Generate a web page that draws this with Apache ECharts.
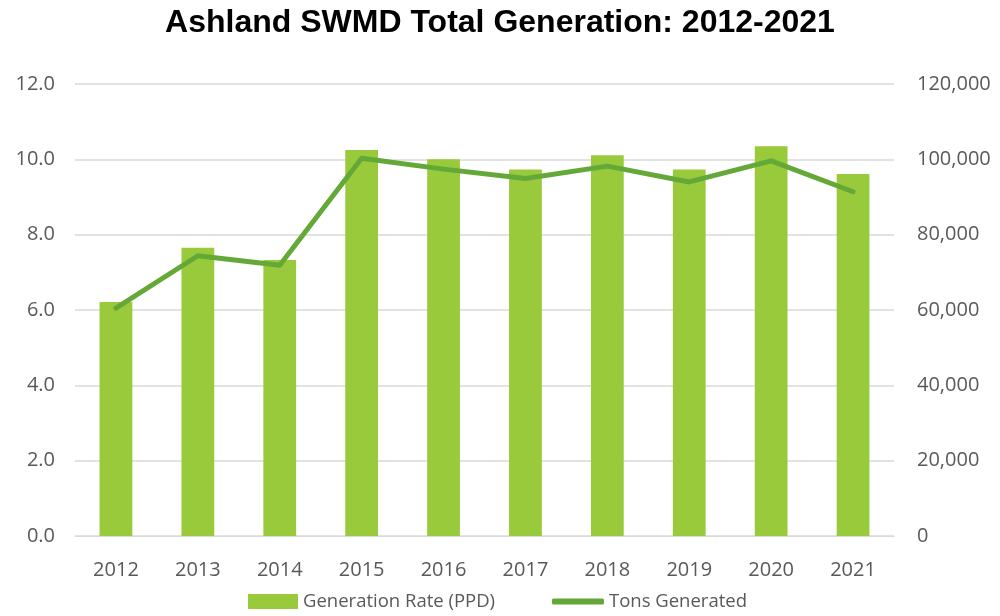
<!DOCTYPE html>
<html>
<head>
<meta charset="utf-8">
<script src="https://cdn.jsdelivr.net/npm/echarts@6/dist/echarts.min.js"></script>
<style>
  html, body { margin: 0; padding: 0; background: #fff; }
  #chart { width: 1000px; height: 616px; }
</style>
</head>
<body>
<div id="chart"></div>
<script>
var years = ['2012', '2013', '2014', '2015', '2016', '2017', '2018', '2019', '2020', '2021']
var generationRate = [6.21, 7.65, 7.33, 10.25, 10.0, 9.73, 10.11, 9.73, 10.35, 9.61]
var tonsGenerated = [60500, 74400, 71900, 100300, 97400, 94900, 98200, 94000, 99600, 91400]

var chart = echarts.init(document.getElementById('chart'))
var labelFont = { color: '#595959', fontSize: 20, fontFamily: 'Open Sans' }
var legendText = { color: '#595959', fontSize: 18.5, fontFamily: 'Open Sans' }

var option = {
  animation: false,
  title: {
    text: 'Ashland SWMD Total Generation: 2012-2021',
    left: 'center',
    top: 2,
    textStyle: { fontFamily: 'Liberation Sans', fontWeight: 'bold', fontSize: 32, color: '#000' }
  },
  // two legends so each icon gets its own size
  legend: [
    {
      left: 243,
      top: 587,
      itemWidth: 50,
      itemHeight: 15,
      textStyle: legendText,
      data: [{ name: 'Generation Rate (PPD)', icon: 'rect' }]
    },
    {
      left: 547,
      top: 587,
      itemWidth: 52,
      itemHeight: 6,
      textStyle: legendText,
      data: [{ name: 'Tons Generated', icon: 'roundRect' }]
    }
  ],
  grid: { left: 75, right: 106, top: 84, bottom: 80 },
  xAxis: {
    type: 'category',
    data: years,
    axisLine: { lineStyle: { color: '#d9d9d9' } },
    axisTick: { show: false },
    axisLabel: Object.assign({ margin: 24 }, labelFont)
  },
  yAxis: [
    {
      type: 'value', min: 0, max: 12, interval: 2,
      axisLabel: Object.assign({ margin: 20, formatter: function (v) { return v.toFixed(1) } }, labelFont),
      splitLine: { lineStyle: { color: '#d9d9d9', width: 1.5 } }
    },
    {
      type: 'value', min: 0, max: 120000, interval: 20000,
      axisLabel: Object.assign({ margin: 23, formatter: function (v) { return v.toLocaleString('en-US') } }, labelFont),
      splitLine: { show: false }
    }
  ],
  series: [
    {
      name: 'Generation Rate (PPD)',
      type: 'bar',
      data: generationRate,
      barWidth: '40%',
      itemStyle: { color: '#99ca3c' }
    },
    {
      name: 'Tons Generated',
      type: 'line',
      yAxisIndex: 1,
      data: tonsGenerated,
      symbol: 'none',
      lineStyle: { color: '#64a838', width: 5, cap: 'round', join: 'round' },
      itemStyle: { color: '#64a838' }
    }
  ]
}
chart.setOption(option)
</script>
</body>
</html>
